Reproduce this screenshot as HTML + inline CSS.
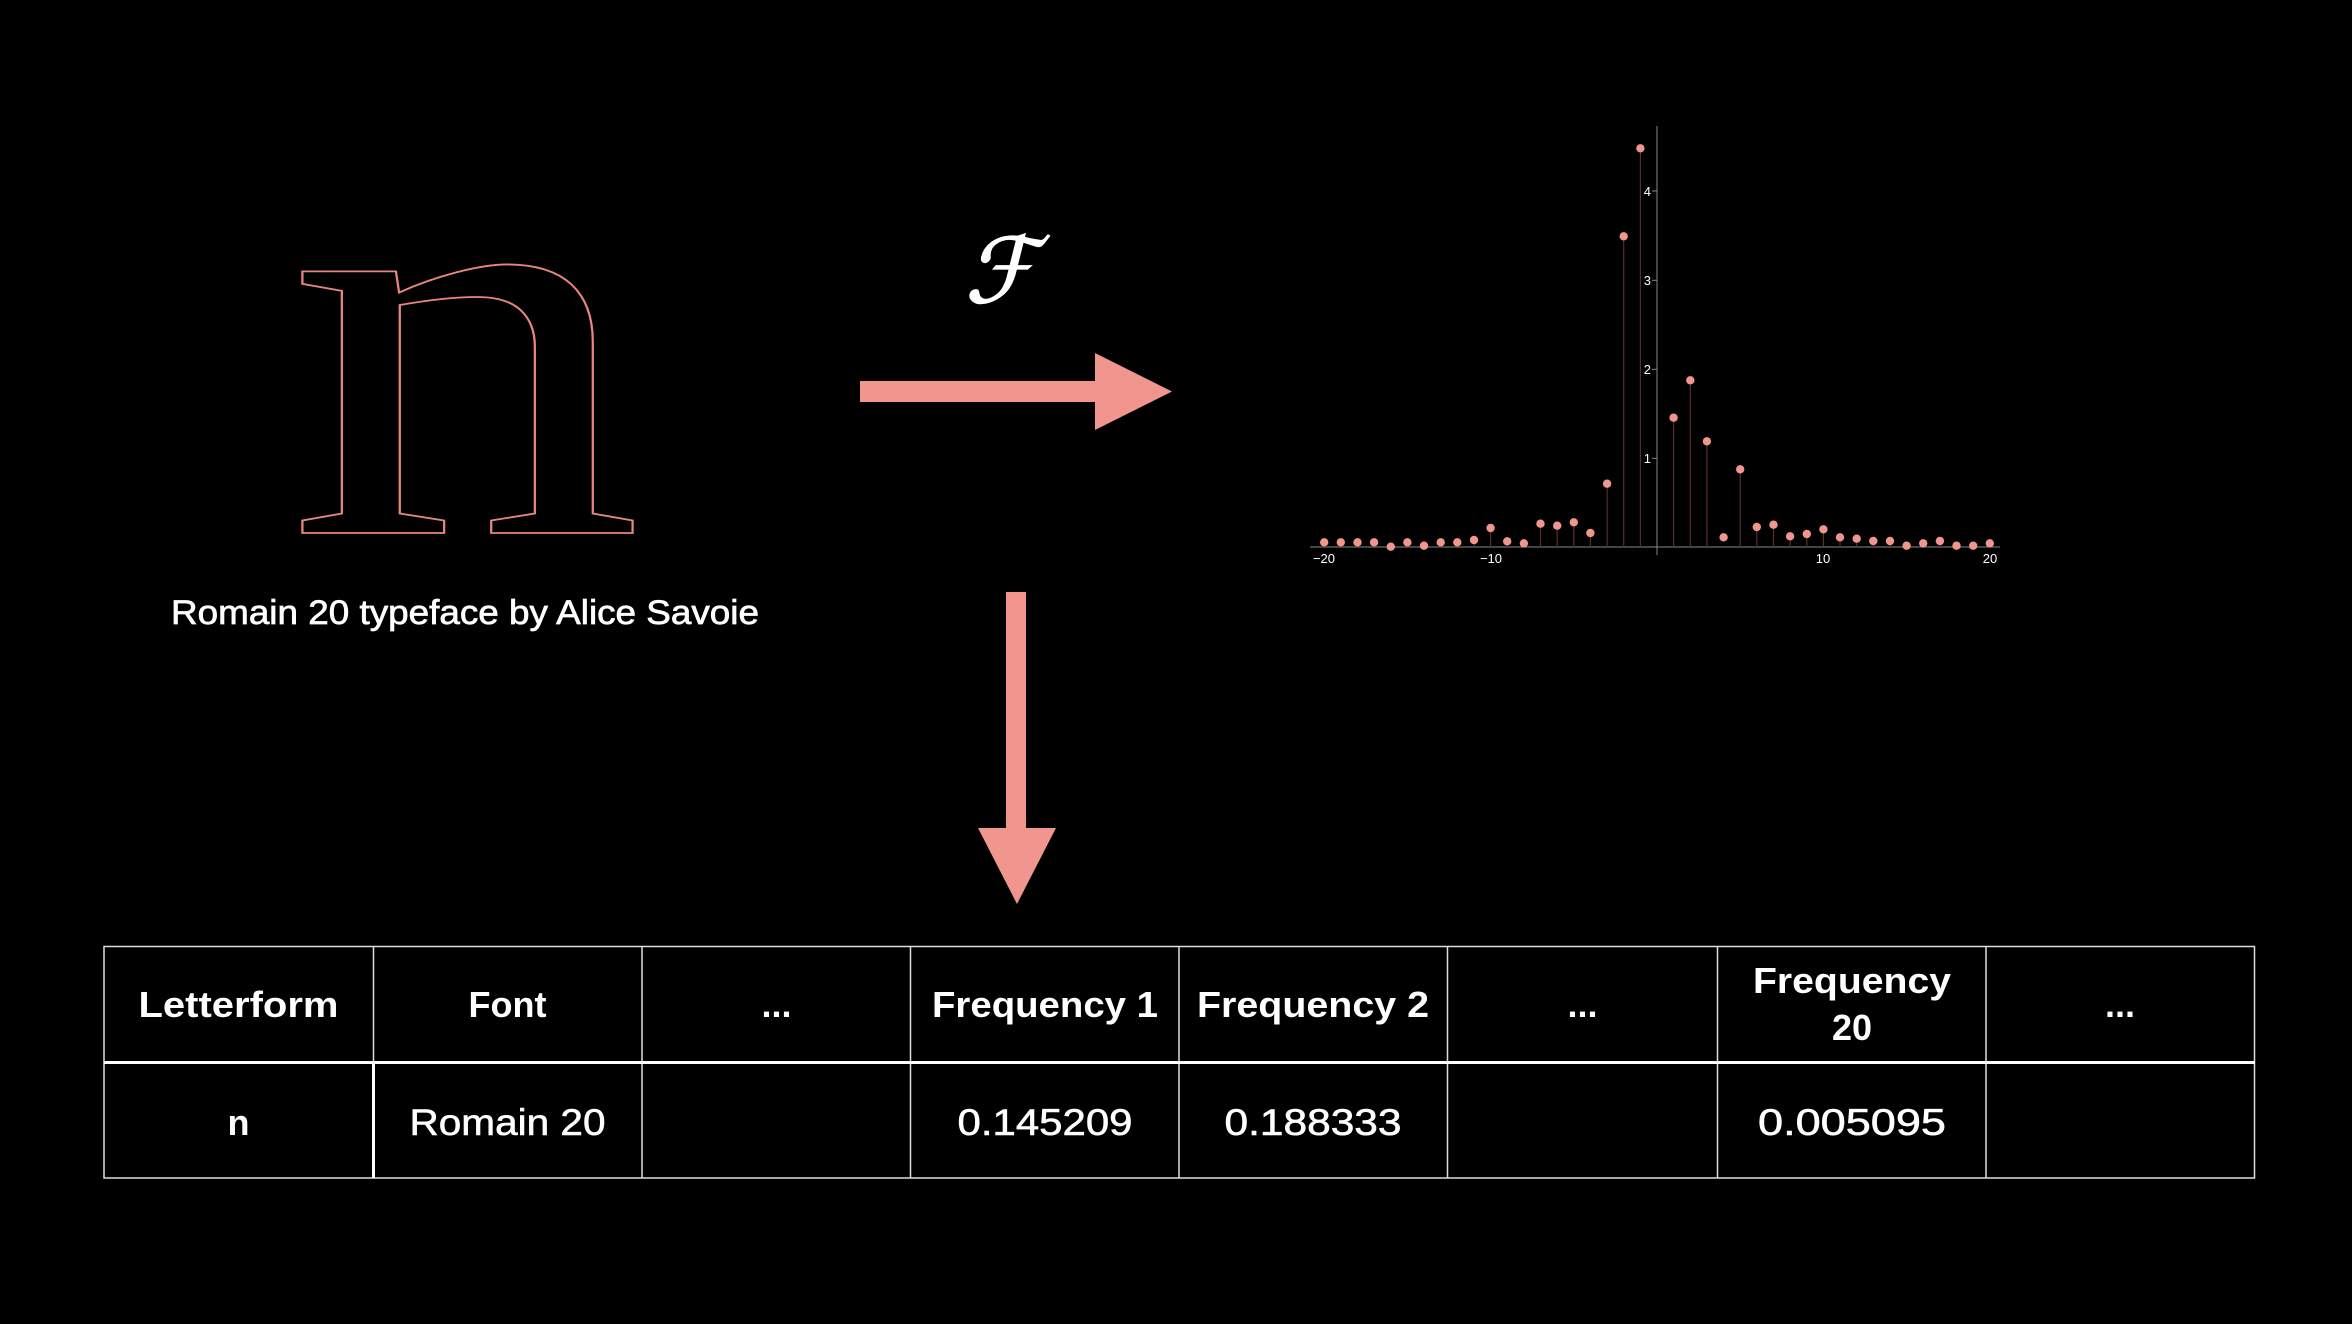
<!DOCTYPE html>
<html><head><meta charset="utf-8"><style>
html,body{margin:0;padding:0;background:#000;}
svg{display:block}
</style></head><body>
<svg width="2352" height="1324" viewBox="0 0 2352 1324" xmlns="http://www.w3.org/2000/svg">
<rect width="2352" height="1324" fill="#000"/>
<!-- letter n -->
<text transform="translate(286,533) scale(1.254,1)" x="0" y="0" font-family="Liberation Serif, serif" font-size="570" fill="none" stroke="#e8877f" stroke-width="1.8">n</text>
<text x="171" y="624" font-family="Liberation Sans, sans-serif" font-size="34" fill="#fff" stroke="#fff" stroke-width="0.7" textLength="588" lengthAdjust="spacingAndGlyphs">Romain 20 typeface by Alice Savoie</text>
<!-- F -->
<text x="1000" y="302" text-anchor="middle" font-family="DejaVu Serif, serif" font-style="italic" font-size="90" fill="#fff" stroke="#fff" stroke-width="1.5">ℱ</text>
<!-- arrows -->
<rect x="860" y="381" width="236" height="21" fill="#f0968f"/>
<polygon points="1095,353 1172,391.5 1095,430" fill="#f0968f"/>
<rect x="1006" y="592" width="20" height="237" fill="#f0968f"/>
<polygon points="978,828 1056,828 1017,904" fill="#f0968f"/>
<!-- chart -->
<g stroke="#888" stroke-width="1">
<line x1="1657" y1="126" x2="1657" y2="555"/>
<line x1="1310" y1="547" x2="2000" y2="547"/>
<line x1="1652" y1="458.3" x2="1657" y2="458.3"/>
<line x1="1652" y1="369.3" x2="1657" y2="369.3"/>
<line x1="1652" y1="280.3" x2="1657" y2="280.3"/>
<line x1="1652" y1="191" x2="1657" y2="191"/>
</g>
<g font-family="Liberation Sans, sans-serif" font-size="13" fill="#fff">
<text x="1651" y="463" text-anchor="end">1</text>
<text x="1651" y="374" text-anchor="end">2</text>
<text x="1651" y="285" text-anchor="end">3</text>
<text x="1651" y="196" text-anchor="end">4</text>
<text x="1324" y="563" text-anchor="middle">−20</text>
<text x="1491" y="563" text-anchor="middle">−10</text>
<text x="1823" y="563" text-anchor="middle">10</text>
<text x="1990" y="563" text-anchor="middle">20</text>
</g>
<g stroke="#5a2e2c" stroke-width="1.2">
<line x1="1324.2" y1="547" x2="1324.2" y2="542.3"/><line x1="1340.8" y1="547" x2="1340.8" y2="542.3"/><line x1="1357.5" y1="547" x2="1357.5" y2="542.3"/><line x1="1374.1" y1="547" x2="1374.1" y2="542.3"/><line x1="1407.4" y1="547" x2="1407.4" y2="542.3"/><line x1="1440.7" y1="547" x2="1440.7" y2="542.3"/><line x1="1457.3" y1="547" x2="1457.3" y2="542.3"/><line x1="1474" y1="547" x2="1474" y2="540"/><line x1="1490.6" y1="547" x2="1490.6" y2="528"/><line x1="1507.2" y1="547" x2="1507.2" y2="541.3"/><line x1="1540.5" y1="547" x2="1540.5" y2="523.7"/><line x1="1557.2" y1="547" x2="1557.2" y2="525.7"/><line x1="1573.8" y1="547" x2="1573.8" y2="522.3"/><line x1="1590.4" y1="547" x2="1590.4" y2="533"/><line x1="1607.1" y1="547" x2="1607.1" y2="483.7"/><line x1="1623.7" y1="547" x2="1623.7" y2="236.3"/><line x1="1640.4" y1="547" x2="1640.4" y2="148.3"/><line x1="1673.6" y1="547" x2="1673.6" y2="417.7"/><line x1="1690.3" y1="547" x2="1690.3" y2="380.3"/><line x1="1706.9" y1="547" x2="1706.9" y2="441.3"/><line x1="1740.2" y1="547" x2="1740.2" y2="469.3"/><line x1="1756.8" y1="547" x2="1756.8" y2="527"/><line x1="1773.5" y1="547" x2="1773.5" y2="524.7"/><line x1="1790.1" y1="547" x2="1790.1" y2="536.3"/><line x1="1806.8" y1="547" x2="1806.8" y2="534"/><line x1="1823.4" y1="547" x2="1823.4" y2="529.3"/><line x1="1840" y1="547" x2="1840" y2="537.3"/><line x1="1856.7" y1="547" x2="1856.7" y2="538.7"/><line x1="1873.3" y1="547" x2="1873.3" y2="541"/><line x1="1890" y1="547" x2="1890" y2="541"/><line x1="1939.9" y1="547" x2="1939.9" y2="541"/>
</g>
<g fill="#f0968f">
<circle cx="1324.2" cy="542.3" r="4.2"/><circle cx="1340.8" cy="542.3" r="4.2"/><circle cx="1357.5" cy="542.3" r="4.2"/><circle cx="1374.1" cy="542.3" r="4.2"/><circle cx="1390.8" cy="546.7" r="4.2"/><circle cx="1407.4" cy="542.3" r="4.2"/><circle cx="1424" cy="545.7" r="4.2"/><circle cx="1440.7" cy="542.3" r="4.2"/><circle cx="1457.3" cy="542.3" r="4.2"/><circle cx="1474" cy="540" r="4.2"/><circle cx="1490.6" cy="528" r="4.2"/><circle cx="1507.2" cy="541.3" r="4.2"/><circle cx="1523.9" cy="543.3" r="4.2"/><circle cx="1540.5" cy="523.7" r="4.2"/><circle cx="1557.2" cy="525.7" r="4.2"/><circle cx="1573.8" cy="522.3" r="4.2"/><circle cx="1590.4" cy="533" r="4.2"/><circle cx="1607.1" cy="483.7" r="4.2"/><circle cx="1623.7" cy="236.3" r="4.2"/><circle cx="1640.4" cy="148.3" r="4.2"/><circle cx="1673.6" cy="417.7" r="4.2"/><circle cx="1690.3" cy="380.3" r="4.2"/><circle cx="1706.9" cy="441.3" r="4.2"/><circle cx="1723.6" cy="537.3" r="4.2"/><circle cx="1740.2" cy="469.3" r="4.2"/><circle cx="1756.8" cy="527" r="4.2"/><circle cx="1773.5" cy="524.7" r="4.2"/><circle cx="1790.1" cy="536.3" r="4.2"/><circle cx="1806.8" cy="534" r="4.2"/><circle cx="1823.4" cy="529.3" r="4.2"/><circle cx="1840" cy="537.3" r="4.2"/><circle cx="1856.7" cy="538.7" r="4.2"/><circle cx="1873.3" cy="541" r="4.2"/><circle cx="1890" cy="541" r="4.2"/><circle cx="1906.6" cy="545.7" r="4.2"/><circle cx="1923.2" cy="543.3" r="4.2"/><circle cx="1939.9" cy="541" r="4.2"/><circle cx="1956.5" cy="545.7" r="4.2"/><circle cx="1973.2" cy="545.7" r="4.2"/><circle cx="1989.8" cy="543.3" r="4.2"/>
</g>
<!-- table -->
<g stroke="#ddd" stroke-width="1.5" fill="none">
<rect x="104" y="946.5" width="2150.5" height="231.5"/>
<line x1="642" y1="946" x2="642" y2="1178"/>
<line x1="910.5" y1="946" x2="910.5" y2="1178"/>
<line x1="1179" y1="946" x2="1179" y2="1178"/>
<line x1="1447.5" y1="946" x2="1447.5" y2="1178"/>
<line x1="1717.5" y1="946" x2="1717.5" y2="1178"/>
<line x1="1986" y1="946" x2="1986" y2="1178"/>
<line x1="373.5" y1="946" x2="373.5" y2="1062"/>
</g>
<line x1="104" y1="1062.5" x2="2255" y2="1062.5" stroke="#fff" stroke-width="3"/>
<line x1="373.5" y1="1062" x2="373.5" y2="1178" stroke="#fff" stroke-width="3"/>
<g font-family="Liberation Sans, sans-serif" font-size="36" fill="#fff" text-anchor="middle" font-weight="bold">
<text x="238.5" y="1017" textLength="200" lengthAdjust="spacingAndGlyphs">Letterform</text>
<text x="507.5" y="1017">Font</text>
<text x="776.5" y="1017">...</text>
<text x="1045" y="1017" textLength="226" lengthAdjust="spacingAndGlyphs">Frequency 1</text>
<text x="1313" y="1017" textLength="232" lengthAdjust="spacingAndGlyphs">Frequency 2</text>
<text x="1582.5" y="1017">...</text>
<text x="1852" y="993" textLength="198" lengthAdjust="spacingAndGlyphs">Frequency</text>
<text x="1852" y="1040">20</text>
<text x="2120" y="1017">...</text>
<text x="238.5" y="1135">n</text>
</g>
<g font-family="Liberation Sans, sans-serif" font-size="37" fill="#fff" stroke="#fff" stroke-width="0.6" text-anchor="middle">
<text x="507.5" y="1135" textLength="196" lengthAdjust="spacingAndGlyphs">Romain 20</text>
<text x="1045" y="1135" textLength="175" lengthAdjust="spacingAndGlyphs">0.145209</text>
<text x="1313" y="1135" textLength="177" lengthAdjust="spacingAndGlyphs">0.188333</text>
<text x="1852" y="1135" textLength="188" lengthAdjust="spacingAndGlyphs">0.005095</text>
</g>
</svg>
</body></html>
